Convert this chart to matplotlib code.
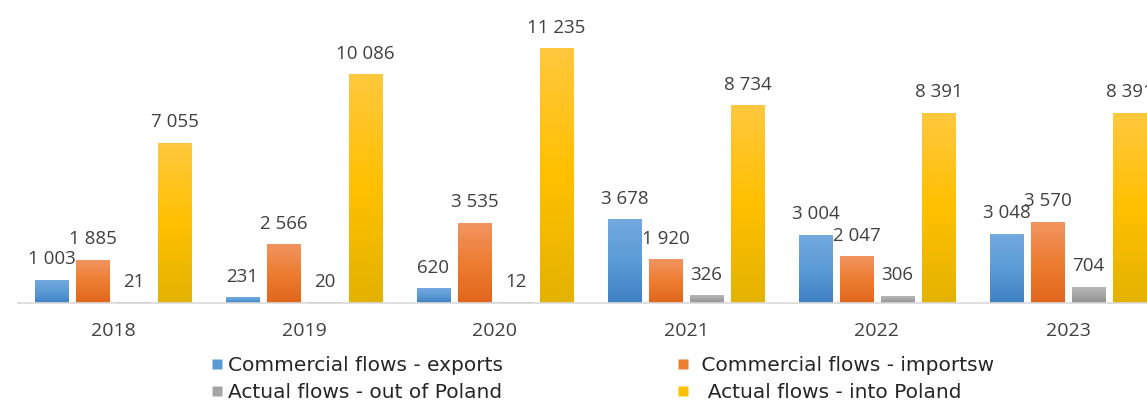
import matplotlib
matplotlib.use("Agg")
import matplotlib.pyplot as plt
from matplotlib.colors import LinearSegmentedColormap
from matplotlib.lines import Line2D
import numpy as np

years = ["2018", "2019", "2020", "2021", "2022", "2023"]
exports = [1003, 231, 620, 3678, 3004, 3048]
imports = [1885, 2566, 3535, 1920, 2047, 3570]
out_of_poland = [21, 20, 12, 326, 306, 704]
into_poland = [7055, 10086, 11235, 8734, 8391, 8391]

series_names = [
    "Commercial flows - exports",
    " Commercial flows - importsw",
    "Actual flows - out of Poland",
    "  Actual flows - into Poland",
]
# top / middle / bottom shades for the gradient fill
gradients = [
    ["#72a9df", "#5b9bd5", "#3f80c4"],
    ["#f29460", "#ed7d31", "#e0661c"],
    ["#b8b8b8", "#a5a5a5", "#939393"],
    ["#ffc83e", "#ffc000", "#e3b200"],
]
legend_colors = ["#5b9bd5", "#ed7d31", "#a5a5a5", "#ffc000"]

W, H = 1147, 401
fig = plt.figure(figsize=(W / 100, H / 100), dpi=100)
ax_left, ax_bottom_px = 17.5, 303
ax_w = W - ax_left
ax_h = 271.3
ax = fig.add_axes([ax_left / W, 1 - ax_bottom_px / H, ax_w / W, ax_h / H])

slot_px = 191.0
x = np.arange(len(years))
bar_w = 0.173
step = 0.215
grad = np.linspace(0, 1, 256).reshape(-1, 1)
text_color = "#404040"
num_font = "Open Sans"

all_series = [exports, imports, out_of_poland, into_poland]
for i, vals in enumerate(all_series):
    offs = x + (i - 1.5) * step
    bars = ax.bar(offs, vals, width=bar_w, color="none", edgecolor="none")
    cmap = LinearSegmentedColormap.from_list(f"g{i}", gradients[i])
    for rect, v in zip(bars, vals):
        x0 = rect.get_x()
        ax.imshow(grad, extent=(x0, x0 + bar_w, 0, v), cmap=cmap,
                  aspect="auto", zorder=2, interpolation="bilinear")
        ax.annotate(f"{v:,}".replace(",", " "), (x0 + bar_w / 2, v),
                    xytext=(0, 12), textcoords="offset pixels",
                    ha="center", va="bottom", fontsize=13.5,
                    family=num_font, color=text_color,
                    annotation_clip=False)

ax.set_xlim(-0.5, -0.5 + ax_w / slot_px)
ax.set_ylim(0, 12000)
ax.set_xticks(x)
ax.set_xticklabels(years, fontsize=14, family=num_font, color=text_color)
ax.set_yticks([])
ax.tick_params(axis="x", length=0, pad=14)
for s in ["top", "right", "left"]:
    ax.spines[s].set_visible(False)
ax.spines["bottom"].set_color("#d9d9d9")
ax.spines["bottom"].set_linewidth(1.2)

order = [0, 2, 1, 3]
handles = [Line2D([], [], marker="s", linestyle="none", markersize=7.5,
                  markerfacecolor=legend_colors[k], markeredgecolor="none")
           for k in order]
fig.legend(handles, [series_names[k] for k in order], ncol=2,
           loc="center left", bbox_to_anchor=(201 / W, 1 - 379 / H),
           frameon=False, fontsize=14.5, handlelength=0.55, handletextpad=0.3,
           columnspacing=8.65, labelspacing=0.42, borderpad=0,
           labelcolor="#262626")

fig.savefig("out.png", dpi=100)
